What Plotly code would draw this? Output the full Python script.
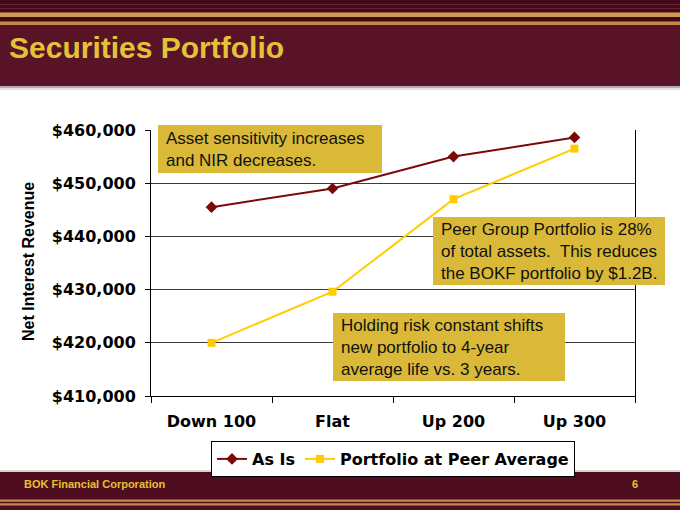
import plotly.graph_objects as go

# ---- data ----
categories = ["Down 100", "Flat", "Up 200", "Up 300"]
as_is = [445500, 449000, 455000, 458600]
peer_avg = [420000, 429600, 447000, 456500]
y_ticks = [410000, 420000, 430000, 440000, 450000, 460000]
y_tick_labels = ["$410,000", "$420,000", "$430,000", "$440,000", "$450,000", "$460,000"]

W, H = 680, 510
L, R, T, B = 151, 45, 130, 114
PW, PH = W - L - R, H - T - B


def px(x):
    return (x - L) / PW


def py(y):
    return (H - B - y) / PH


fig = go.Figure()
fig.add_trace(go.Scatter(
    x=categories, y=as_is, name="As Is", mode="lines+markers",
    line=dict(color="#7A0A0A", width=2),
    marker=dict(symbol="diamond", size=9, color="#7A0A0A"),
))
fig.add_trace(go.Scatter(
    x=categories, y=peer_avg, name="Portfolio at Peer Average", mode="lines+markers",
    line=dict(color="#FFCC00", width=2),
    marker=dict(symbol="square", size=8, color="#FFCC00"),
))

shapes = []


def rect(x0, y0, x1, y1, color, layer="below"):
    shapes.append(dict(type="rect", xref="paper", yref="paper", layer=layer,
                       x0=px(x0), x1=px(x1), y0=py(y0), y1=py(y1),
                       fillcolor=color, line=dict(width=0)))


# header band
rect(0, 0, W, 86, "#591327")
rect(0, 0, W, 12, "#420B1B")
rect(0, 4, W, 5, "#6A2030")
rect(0, 8, W, 9, "#6A2030")
rect(0, 12.5, W, 17, "#CF9A52")
rect(0, 17, W, 21.5, "#3E0916")
rect(0, 21.5, W, 25, "#C48C48")
rect(0, 86, W, 88, "#B8A8AC")
rect(0, 88, W, 90, "#E6E0E2")
# footer band
rect(0, 470, W, 472, "#D8D0D2")
rect(0, 472, W, H, "#4F0E1F")
rect(0, 499.5, W, 501.8, "#C48C48")
rect(0, 503.2, W, 505.5, "#C48C48")

annotations = []
# title
annotations.append(dict(text="<b>Securities Portfolio</b>", xref="paper", yref="paper",
                        x=px(7), y=py(47), xanchor="left", yanchor="middle", showarrow=False,
                        font=dict(family="Liberation Sans", size=30, color="#E4C13A")))
# footer
annotations.append(dict(text="<b>BOK Financial Corporation</b>", xref="paper", yref="paper",
                        x=px(22), y=py(484), xanchor="left", yanchor="middle", showarrow=False,
                        font=dict(family="Liberation Sans", size=11, color="#E6C033")))
annotations.append(dict(text="<b>6</b>", xref="paper", yref="paper",
                        x=px(635), y=py(484), xanchor="center", yanchor="middle", showarrow=False,
                        font=dict(family="Liberation Sans", size=11, color="#E6C033")))
# y axis title
annotations.append(dict(text="<b>Net Interest Revenue</b>", xref="paper", yref="paper",
                        x=px(28), y=py(262), xanchor="center", yanchor="middle", showarrow=False,
                        textangle=-90,
                        font=dict(family="Liberation Sans", size=16, color="#000000")))


def box(text, x0, y0, x1, y1):
    rect(x0, y0, x1, y1, "#D9B937", layer="above")
    annotations.append(dict(text=text, xref="paper", yref="paper",
                            x=px(x0 + 6), y=py((y0 + y1) / 2), xanchor="left", yanchor="middle",
                            showarrow=False, align="left",
                            font=dict(family="Liberation Sans", size=17, color="#111111")))


box("Asset sensitivity increases<br>and NIR decreases.", 158, 125, 382, 173)
box("Peer Group Portfolio is 28%<br>of total assets.  This reduces<br>the BOKF portfolio by $1.2B.",
    433, 217, 665, 285)
box("Holding risk constant shifts<br>new portfolio to 4-year<br>average life vs. 3 years.",
    333, 313, 565, 381)

tick_font = dict(family="DejaVu Sans", size=16, color="#000000", weight="bold")

fig.update_layout(
    width=W, height=H,
    margin=dict(l=L, r=R, t=T, b=B),
    paper_bgcolor="#FFFFFF", plot_bgcolor="#FFFFFF",
    shapes=shapes, annotations=annotations,
    showlegend=True,
    legend=dict(orientation="h", x=px(393), y=py(441), xanchor="center", yanchor="top",
                bgcolor="#FFFFFF", bordercolor="#000000", borderwidth=1,
                font=dict(family="DejaVu Sans", size=16, color="#000000", weight="bold"),
                itemwidth=30, tracegroupgap=0),
    xaxis=dict(type="category", range=[-0.5, 3.5], showgrid=False,
               tickson="boundaries", ticks="outside", ticklen=6, tickcolor="#000000",
               showline=True, linecolor="#000000", linewidth=1,
               tickfont=tick_font, ticklabelstandoff=11, fixedrange=True),
    yaxis=dict(range=[410000, 460000], tickvals=y_ticks, ticktext=y_tick_labels,
               showgrid=True, gridcolor="#3A3A3A", gridwidth=1,
               ticks="outside", ticklen=5, tickcolor="#000000",
               showline=True, linecolor="#000000", linewidth=1, mirror=True,
               zeroline=False, tickfont=tick_font, ticklabelstandoff=6, fixedrange=True),
    hovermode=False,
)

fig.write_html("out.html")
